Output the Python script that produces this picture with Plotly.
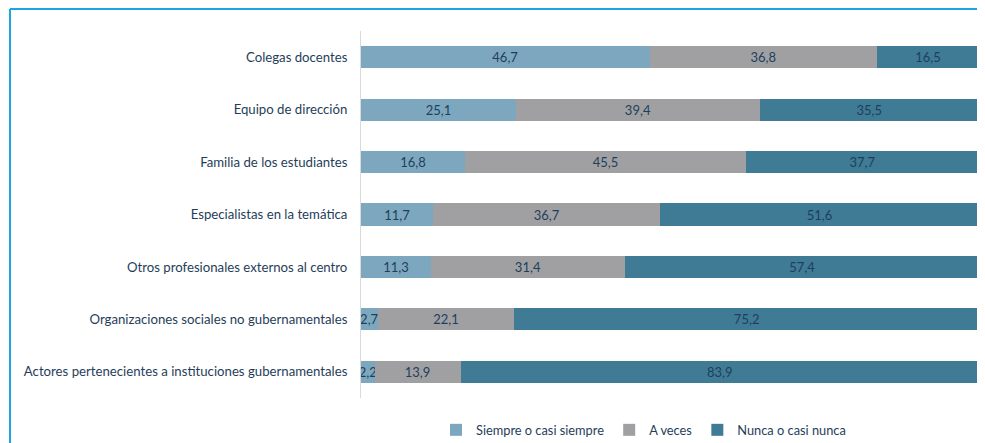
import plotly.graph_objects as go

categories = [
    "Colegas docentes",
    "Equipo de dirección",
    "Familia de los estudiantes",
    "Especialistas en la temática",
    "Otros profesionales externos al centro",
    "Organizaciones sociales no gubernamentales",
    "Actores pertenecientes a instituciones gubernamentales",
]
siempre = [46.7, 25.1, 16.8, 11.7, 11.3, 2.7, 2.2]
a_veces = [36.8, 39.4, 45.5, 36.7, 31.4, 22.1, 13.9]
nunca = [16.5, 35.5, 37.7, 51.6, 57.4, 75.2, 83.9]

series = [
    ("Siempre o casi siempre", siempre, "#7DA7BE"),
    ("A veces", a_veces, "#A0A0A3"),
    ("Nunca o casi nunca", nunca, "#3F7B94"),
]

def fmt(v):
    return f"{v:.1f}".replace(".", ",")

# page body has an 8px margin; figure coordinates are page coordinates - 8
W, H = 977, 435
L, R, T, B = 353, 6, 23, 45
pw, ph = W - L - R, H - T - B

fig = go.Figure()
for name, vals, col in series:
    fig.add_trace(go.Bar(
        y=categories, x=vals, name=name, orientation="h",
        marker=dict(color=col, line=dict(width=0)),
        text=[fmt(v) for v in vals], textposition="inside", textangle=0,
        insidetextanchor="middle", constraintext="none",
        textfont=dict(color="#1E3F5C", size=13, family="Lato"),
        width=0.42,
    ))

bx = (2 - L) / pw
by = (H - B - 1) / ph

fig.update_layout(
    barmode="stack",
    width=W, height=H,
    margin=dict(l=L, r=R, t=T, b=B, autoexpand=False),
    paper_bgcolor="white", plot_bgcolor="white",
    font=dict(family="Lato", size=13, color="#1F3E5A"),
    uniformtext=dict(minsize=13, mode="show"),
    showlegend=True,
    legend=dict(orientation="h", x=(428 - L) / pw, xanchor="left",
                y=-(422 - (H - B)) / ph, yanchor="middle",
                font=dict(size=12.8, color="#1F3E5A"), traceorder="normal",
                itemwidth=30),
    xaxis=dict(range=[0, 100], showgrid=False, showticklabels=False, zeroline=False,
               showline=False, fixedrange=True),
    yaxis=dict(autorange="reversed", showgrid=False, showline=True, linecolor="#D9D9D9",
               linewidth=1, ticks="", ticklabelstandoff=10,
               tickfont=dict(size=13.2, color="#1F3E5A")),
    shapes=[
        dict(type="line", xref="paper", yref="paper", x0=bx, x1=1.05,
             y0=by, y1=by, line=dict(color="#1DA4E3", width=2)),
        dict(type="line", xref="paper", yref="paper", x0=bx, x1=bx,
             y0=by, y1=-0.2, line=dict(color="#1DA4E3", width=2)),
    ],
)

fig.write_html("out.html")
